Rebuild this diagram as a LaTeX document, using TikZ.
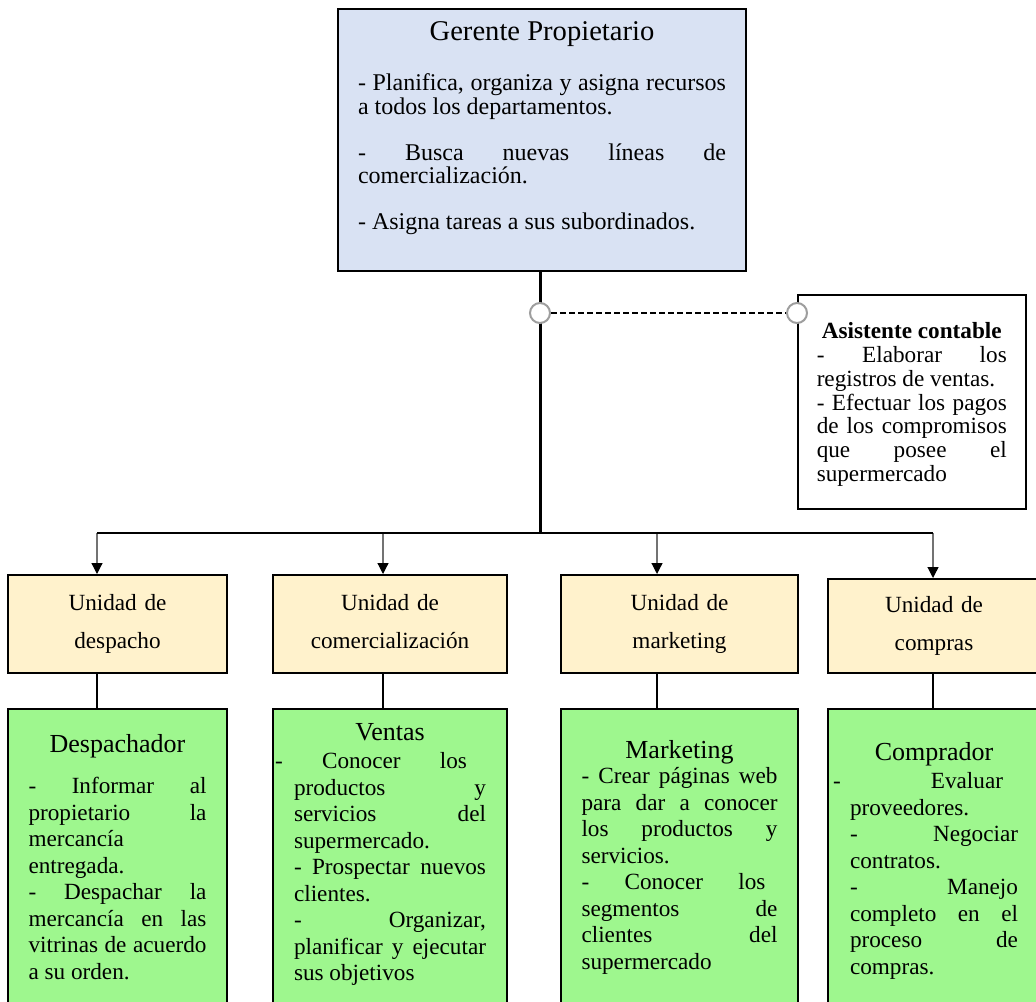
\documentclass[tikz,border=0pt]{standalone}
\usepackage{fontspec}
\setmainfont{Liberation Serif}
\usetikzlibrary{arrows.meta, positioning}
\definecolor{azulgte}{RGB}{217,226,243}
\definecolor{cremauni}{RGB}{255,242,204}
\definecolor{verdepto}{RGB}{158,247,142}
\newcommand{\cabeza}[1]{{\centering\fontsize{13}{13}\selectfont #1\par}}

\begin{document}
\begin{tikzpicture}[x=0.5pt, y=-0.5pt,
    caja/.style={draw=black, line width=0.75pt, inner sep=0pt},
    unidad/.style={caja, fill=cremauni, anchor=north, align=center,
      text height=8pt, text depth=21.5pt, font=\fontsize{11.6}{19}\selectfont},
    puesto/.style={caja, fill=verdepto, anchor=north, align=justify,
      text depth=140pt, font=\fontsize{11.6}{13.25}\selectfont},
    enlace/.style={circle, draw=black!38, line width=1pt, fill=white,
      minimum size=10pt, inner sep=0pt},
    linea/.style={draw=black, line width=0.75pt},
    baja/.style={draw=black!55, line width=0.6pt,
      -{Triangle[width=5.5pt, length=5.5pt, color=black]}}]
  \useasboundingbox (0,0) rectangle (1036,1001);
  \clip (0,0) rectangle (1036,1001);

  % gerente y asistente
  \node[caja, fill=azulgte, anchor=north, minimum width=204pt, text width=184pt,
    align=justify, text height=16pt, text depth=115pt,
    font=\fontsize{12}{11.75}\selectfont] (gerente) at (542,8)
    {{\centering\fontsize{14.3}{14.3}\selectfont Gerente Propietario\par}\vspace{13.25pt}
     - Planifica, organiza y asigna recursos\linebreak a todos los departamentos.\par\vspace{11.25pt}
     - Busca nuevas líneas de\linebreak comercialización.\par\vspace{11.25pt}
     - Asigna tareas a sus subordinados.};
  \node[caja, fill=white, anchor=north west, minimum width=114pt, text width=95pt,
    align=justify, text height=22pt, text depth=85pt,
    font=\fontsize{11.6}{11.9}\selectfont] (asistente) at (797,294)
    {{\centering\bfseries Asistente contable\par}
     - Elaborar los\linebreak registros de ventas.\par
     - Efectuar los pagos\linebreak de los compromisos\linebreak que posee el\linebreak supermercado};

  \coordinate (bus) at (540,533);
  \draw[line width=1.5pt] (gerente.south -| bus) -- (bus);
  \node[enlace] (e1) at (540,313) {};
  \node[enlace] (e2) at (asistente.west |- e1) {};
  \draw[dash pattern=on 3pt off 1.5pt, line width=0.6pt] (e1) -- (e2);

  % puestos
  \node[puesto, minimum width=109.5pt, text width=89pt, text height=22pt] (g1) at (117.5,708)
    {\cabeza{Despachador}\vspace{7.25pt}
     - Informar al\linebreak propietario la\linebreak mercancía\linebreak entregada.\par
     - Despachar la\linebreak mercancía en las\linebreak vitrinas de acuerdo\linebreak a su orden.};
  \node[puesto, minimum width=117pt, text width=96pt, text height=16pt] (g2) at (390,708)
    {\cabeza{Ventas}\vspace{0.75pt}
     \hspace*{-9.5pt}- Conocer los\hspace*{9.5pt}\linebreak productos y\linebreak servicios del\linebreak supermercado.\par
     - Prospectar nuevos\linebreak clientes.\par
     - Organizar,\linebreak planificar y ejecutar\linebreak sus objetivos};
  \node[puesto, minimum width=118.5pt, text width=98pt, text height=25pt] (g3) at (679.5,708)
    {\cabeza{Marketing}\vspace{-0.75pt}
     - Crear páginas web\linebreak para dar a conocer\linebreak los productos y\linebreak servicios.\par
     - Conocer los\hspace*{6pt}\linebreak segmentos de\linebreak clientes del\linebreak supermercado};
  \node[puesto, minimum width=106pt, text width=84pt, text height=26pt] (g4) at (934,708)
    {\cabeza{Comprador}\vspace{0.75pt}
     \hspace*{-8.5pt}- Evaluar\hspace*{7.5pt}\linebreak proveedores.\par
     - Negociar\linebreak contratos.\par
     - Manejo\linebreak completo en el\linebreak proceso de\linebreak compras.};

  % unidades
  \foreach \n/\dx/\cx/\bw/\ut/\uh/\uni in {
      1/97/117.5/109.5/574/49/{Unidad de\\despacho},
      2/383/390/117/574/49/{Unidad de\\comercialización},
      3/657/679.5/118.5/574/49/{Unidad de\\marketing},
      4/933/934/106/578/47/{Unidad de\\compras}}
  {
    \coordinate (j\n) at (\dx,533);
    \node[unidad, text width=\bw pt, minimum height=\uh pt] (u\n) at (\cx,\ut) {\uni};
    \draw[baja] (j\n) -- (j\n |- u\n.north);
    \draw[linea] (j\n |- u\n.south) -- (j\n |- g\n.north);
  }
  \draw[linea] (j1) -- (j4);
\end{tikzpicture}
\end{document}
